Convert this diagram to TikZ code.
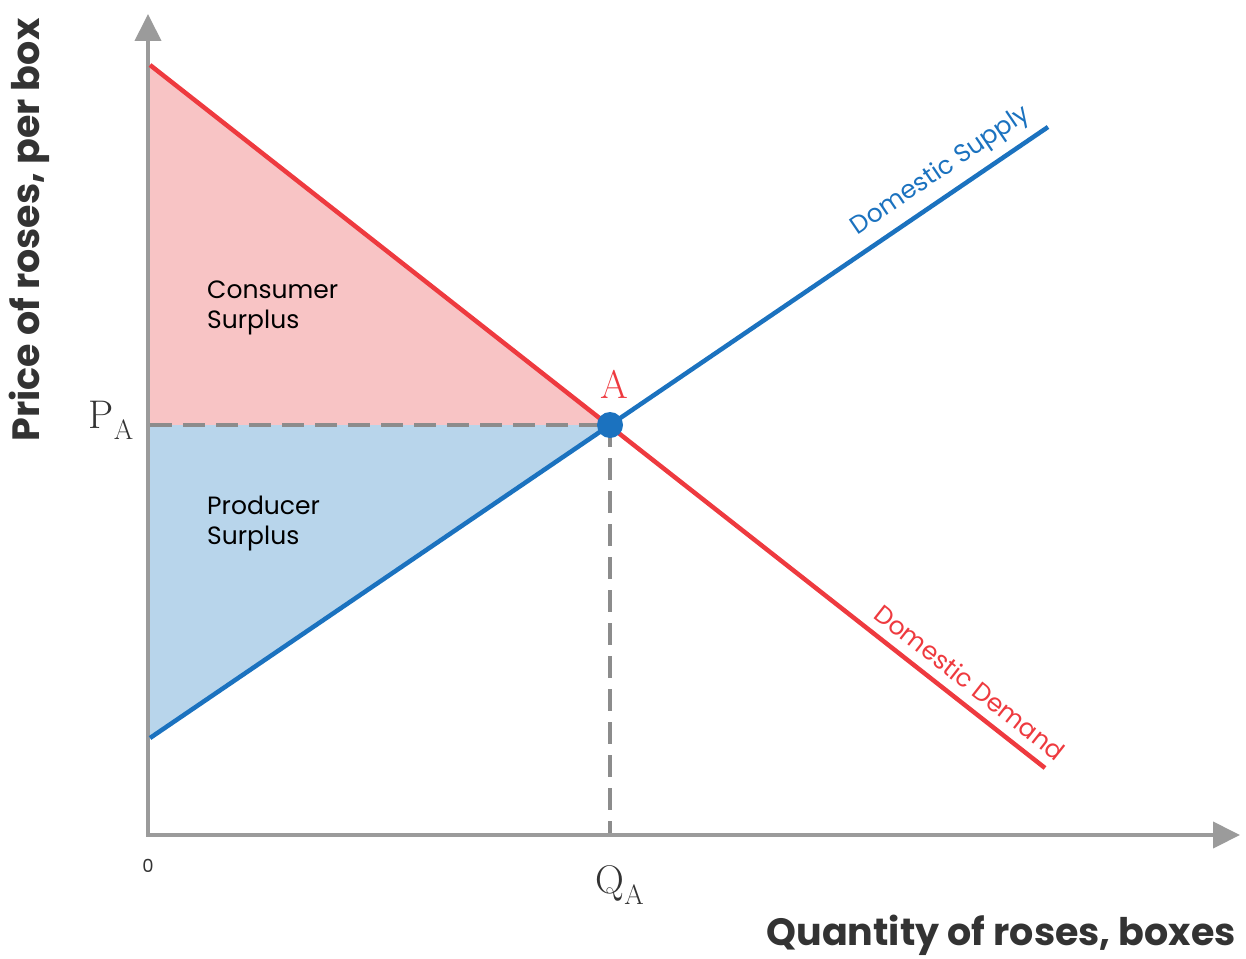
\documentclass[tikz,border=0pt]{standalone}
\usepackage{fontspec}
\setsansfont{Poppins}
\usetikzlibrary{arrows.meta}
\definecolor{dred}{HTML}{EE3A3F}
\definecolor{dblue}{HTML}{1B72BF}
\definecolor{cpink}{HTML}{F8C4C5}
\definecolor{cblue}{HTML}{B8D5EB}
\definecolor{axgray}{HTML}{9B9B9B}
\definecolor{dashgray}{HTML}{8C8C8C}
\definecolor{txt}{HTML}{333333}
\tikzset{
  axis/.style={draw=axgray, line width=4pt, -{Triangle[length=27pt,width=26pt]}},
  demandline/.style={draw=dred, line width=4.5pt},
  supplyline/.style={draw=dblue, line width=4.5pt},
  guide/.style={draw=dashgray, line width=4pt, dash pattern=on 22pt off 11pt},
  areatext/.style={font=\sffamily\fontsize{25}{30}\selectfont, text=black, align=left, anchor=north west, inner sep=0pt},
  curvelabel/.style={font=\sffamily\fontsize{25}{28}\selectfont, inner sep=0pt},
  axlabel/.style={font=\sffamily\bfseries\fontsize{38}{44}\selectfont, text=txt, inner sep=0pt},
  serifl/.style={font=\fontsize{40}{44}\selectfont, text=txt, inner sep=0pt}
}
\begin{document}
\begin{tikzpicture}[x=1pt,y=-1pt]
\useasboundingbox (0,0) rectangle (1246,958);
\coordinate (O) at (148,835);
\coordinate (ytop) at (148,14);
\coordinate (xend) at (1240,835);
\coordinate (d0) at (150,65);
\coordinate (d1) at (1045,768);
\coordinate (s0) at (150,738);
\coordinate (s1) at (1048,127);
\coordinate (E) at (610,425);
\coordinate (pa) at (150,425);
\coordinate (qa) at (610,835);
% areas
\fill[cpink] (d0) -- (E) -- (pa) -- cycle;
\fill[cblue] (pa) -- (E) -- (s0) -- cycle;
% guides
\draw[guide] (pa) -- (E);
\draw[guide] (E) -- (qa);
% axes
\draw[axis] (O) -- (ytop);
\draw[axis] ([xshift=-2pt]O) -- (xend);
% curves
\draw[demandline] (d0) -- (d1);
\draw[supplyline] (s0) -- (s1);
\fill[dblue] (E) circle (13pt);
% labels
\node[areatext] (cs) at (207,281) {Consumer\\Surplus};
\node[areatext] (ps) at (207,496) {Producer\\Surplus};
\node[serifl, text=dred] (A) at (614,384) {A};
\node[serifl, anchor=east] (PA) at (134,420) {P\textsubscript{A}};
\node[serifl] (QA) at (620,885) {Q\textsubscript{A}};
\node[font=\sffamily\fontsize{18}{20}\selectfont, text=txt, inner sep=0pt] (zero) at (148,866) {0};
\node[curvelabel, text=dblue, rotate=34.2] (ds) at (941,171) {Domestic Supply};
\node[curvelabel, text=dred, rotate=-38.2] (dd) at (970,682) {Domestic Demand};
\node[axlabel, rotate=90] (ylab) at (29,230) {Price of roses, per box};
\node[axlabel, anchor=east] (xlab) at (1236,935) {Quantity of roses, boxes};
\end{tikzpicture}
\end{document}
